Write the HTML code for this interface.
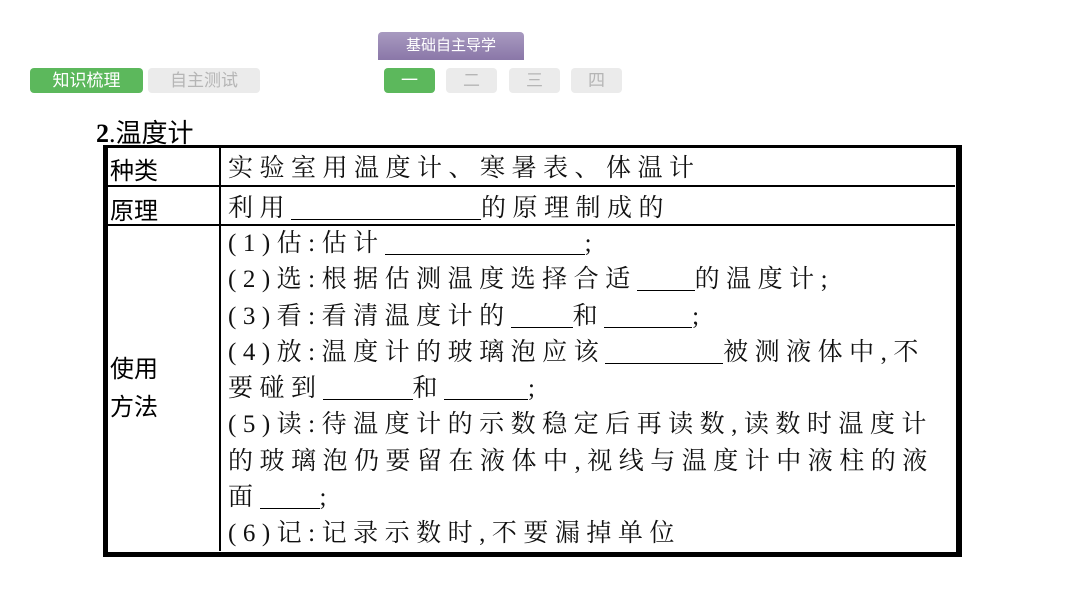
<!DOCTYPE html>
<html><head><meta charset="utf-8"><style>
body{margin:0;width:1066px;height:600px;background:#fff;position:relative;overflow:hidden;font-family:"Liberation Sans","Noto Sans CJK SC",sans-serif}
.a{position:absolute;white-space:nowrap}
.btn{position:absolute;height:25px;border-radius:4px;font-size:17px;line-height:25px;text-align:center}
.g{background:#5cb85c;color:#fff}
.l{background:#ebebeb;color:#b5b5b5}
.s{font-family:"Liberation Serif","Noto Serif CJK SC",serif;font-size:25px;letter-spacing:6.5px;color:#111}
.k{font-family:"Liberation Sans","Noto Sans CJK SC",sans-serif;font-size:24px;color:#000}
u{text-decoration:none;border-bottom:1.5px solid #000;display:inline-block;line-height:20px}
</style></head><body>
<div class="a" style="left:378px;top:32px;width:146px;height:28px;background:linear-gradient(#a89ac0,#8a77a8);border-radius:4px 4px 0 0;color:#fff;font-size:15px;line-height:28px;text-align:center">基础自主导学</div>
<div class="btn g" style="left:30px;top:68px;width:113px">知识梳理</div>
<div class="btn l" style="left:148px;top:68px;width:112px">自主测试</div>
<div class="btn g" style="left:384px;top:68px;width:51px">一</div>
<div class="btn l" style="left:446px;top:68px;width:51px">二</div>
<div class="btn l" style="left:509px;top:68px;width:51px">三</div>
<div class="btn l" style="left:571px;top:68px;width:51px">四</div>
<div class="a" style="left:96px;top:113px;font-size:26px;font-family:'Liberation Serif','Noto Sans CJK SC',serif"><b>2</b>.温度计</div>
<div class="a" style="left:103px;top:145px;width:848px;height:404px;border:solid #000;border-width:3px 6px 5px 5px"></div>
<div class="a" style="left:219px;top:148px;width:2px;height:403px;background:#000"></div>
<div class="a" style="left:108px;top:185px;width:847px;height:2px;background:#000"></div>
<div class="a" style="left:108px;top:224px;width:847px;height:2px;background:#000"></div>
<div class="a k" style="left:110px;top:151px">种类</div>
<div class="a k" style="left:110px;top:191px">原理</div>
<div class="a k" style="left:110px;top:351px;line-height:38px">使用<br>方法</div>
<div class="a s" style="left:228px;top:148px">实验室用温度计、寒暑表、体温计</div>
<div class="a s" style="left:228px;top:188px">利用<u style="width:190px">&nbsp;</u>的原理制成的</div>
<div class="a s" style="left:228px;top:226px;line-height:36.3px">(1)估:估计<u style="width:200px">&nbsp;</u>;<br>(2)选:根据估测温度选择合适<u style="width:58px">&nbsp;</u>的温度计;<br>(3)看:看清温度计的<u style="width:62px">&nbsp;</u>和<u style="width:88px">&nbsp;</u>;<br>(4)放:温度计的玻璃泡应该<u style="width:118px">&nbsp;</u>被测液体中,不<br>要碰到<u style="width:90px">&nbsp;</u>和<u style="width:84px">&nbsp;</u>;<br>(5)读:待温度计的示数稳定后再读数,读数时温度计<br>的玻璃泡仍要留在液体中,视线与温度计中液柱的液<br>面<u style="width:60px">&nbsp;</u>;<br>(6)记:记录示数时,不要漏掉单位</div>
</body></html>
